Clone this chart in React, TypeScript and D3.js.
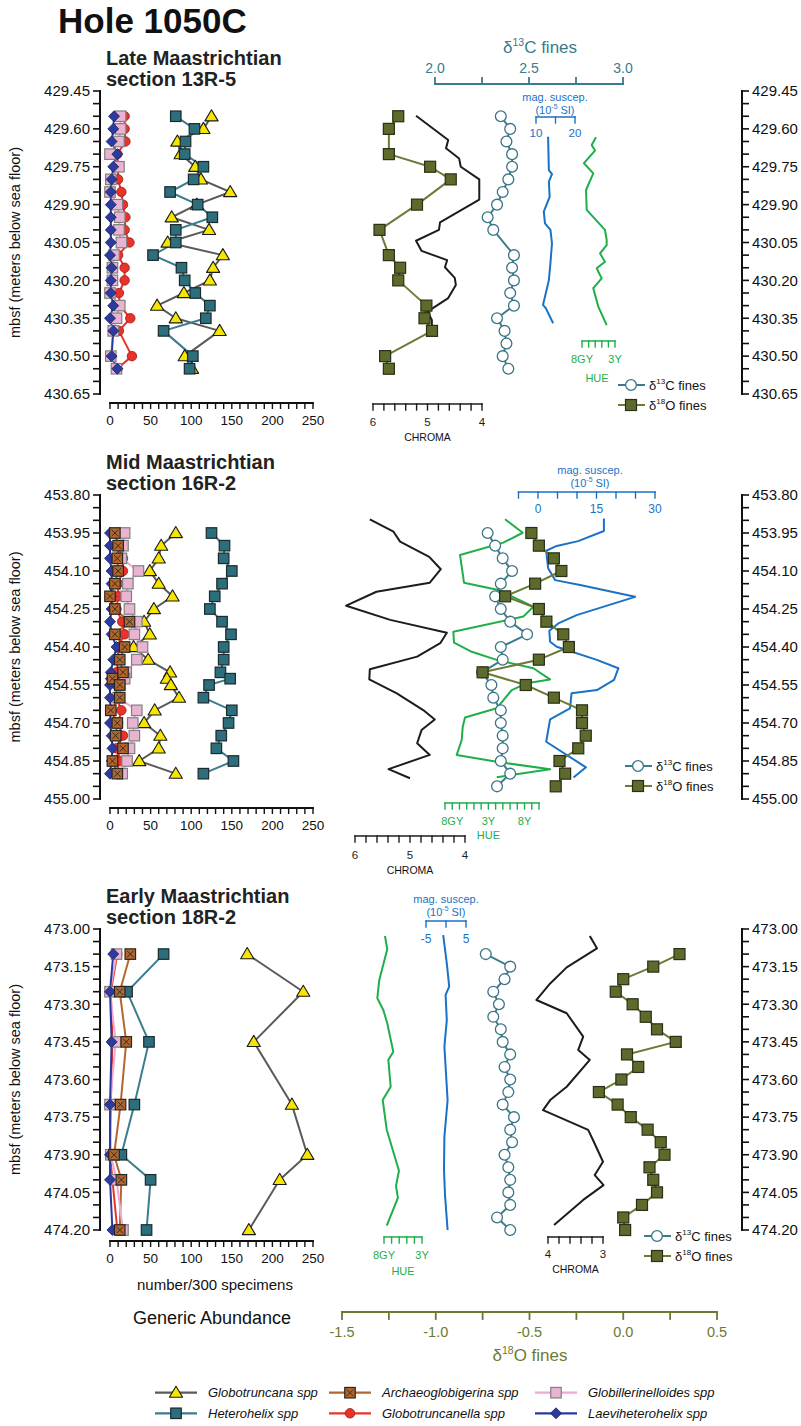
import React from 'react';
import * as d3 from 'd3';

const SANS = "'Liberation Sans', Arial, Helvetica, sans-serif";

// Palette
const C_TEAL = '#3b7b8a';
const C_OLIVE = '#6c7a30';
const C_MAG = '#1a72c6';
const C_HUE = '#1fae4a';
const C_CHROMA = '#1c1c1c';

// ---------------- Late Maastrichtian, section 13R-5 ----------------
const lateDepth = [429.55, 429.60, 429.65, 429.70, 429.75, 429.80, 429.85, 429.90, 429.95, 430.00, 430.05, 430.10, 430.15, 430.20, 430.25, 430.30, 430.35, 430.40, 430.50, 430.55];
const lateGlobotruncana = [125, 115, 83, 87, 105, 112, 148, 107, 76, 122, 71, 139, 127, 123, 91, 58, 81, 135, 92, 101];
const lateHeterohelix = [81, 104, 93, 92, 115, 103, 74, 108, 126, 81, 81, 53, 88, 92, 105, 123, 118, 66, 102, 98];
const lateGlobotruncanella = [18, 18, 19, 9, 10, 10, 14, 16, 19, 18, 24, 10, 18, 18, 11, 12, 25, 11, 27, 9];
const lateGlobillerinelloides = [13, 13, 11, 0, 11, 1, 0, 9, 12, 11, 14, 5, 3, 3, 0, 12, 8, 4, 1, 8];
const lateLaeviheterohelix = [5, 4, 2, 9, 4, 2, 1, 1, 1, 1, 1, 0, 2, 1, 1, 4, 0, 4, 2, 9];

const lateO18Depth = [429.55, 429.60, 429.70, 429.75, 429.80, 429.90, 430.00, 430.10, 430.15, 430.20, 430.30, 430.35, 430.40, 430.50, 430.55];
const lateO18 = [-1.20, -1.25, -1.25, -1.03, -0.92, -1.10, -1.30, -1.25, -1.19, -1.20, -1.05, -1.06, -1.02, -1.27, -1.25];
const lateC13Depth = [429.55, 429.60, 429.65, 429.70, 429.75, 429.80, 429.85, 429.90, 429.95, 430.00, 430.10, 430.15, 430.20, 430.25, 430.30, 430.35, 430.40, 430.45, 430.50, 430.55];
const lateC13 = [2.35, 2.40, 2.38, 2.41, 2.41, 2.39, 2.36, 2.33, 2.28, 2.31, 2.42, 2.41, 2.42, 2.40, 2.42, 2.33, 2.37, 2.38, 2.36, 2.39];
const lateChromaDepth = [429.548, 429.644, 429.677, 429.717, 429.75, 429.80, 429.88, 429.97, 430.00, 430.043, 430.083, 430.12, 430.148, 430.19, 430.218, 430.27, 430.324, 430.357, 430.397];
const lateChroma = [5.21, 4.62, 4.66, 4.42, 4.39, 4.05, 4.05, 4.77, 4.79, 5.21, 5.11, 4.64, 4.68, 4.50, 4.48, 4.62, 5.00, 4.92, 4.92];
const lateMagDepth = [429.631, 429.763, 429.779, 429.809, 429.869, 429.928, 429.974, 430.0, 430.053, 430.132, 430.199, 430.265, 430.297, 430.31, 430.37];
const lateMag = [13.1, 13.3, 14.1, 13.3, 13.5, 12.0, 12.3, 13.7, 14.1, 13.7, 13.3, 12.3, 11.8, 12.5, 14.4];
const lateHueDepth = [429.633, 429.664, 429.686, 429.736, 429.776, 429.842, 429.921, 430.0, 430.04, 430.06, 430.093, 430.126, 430.152, 430.192, 430.231, 430.304, 430.377];
const lateHue = [2.12, 1.47, 1.97, 0.30, 1.71, 0.61, 0.71, 3.48, 3.74, 3.74, 2.73, 3.48, 2.23, 2.98, 1.71, 2.47, 3.74];

// ---------------- Mid Maastrichtian, section 16R-2 ----------------
const midDepth = [453.95, 454.00, 454.05, 454.10, 454.15, 454.20, 454.25, 454.30, 454.35, 454.40, 454.45, 454.50, 454.525, 454.55, 454.60, 454.65, 454.70, 454.75, 454.80, 454.85, 454.90];
const midGlobotruncana = [81, 63, 60, 49, 60, 77, 54, 42, 49, 29, 47, 74, 70, 75, 85, 55, 42, 62, 60, 36, 81];
const midHeterohelix = [125, 141, 140, 150, 138, 129, 123, 138, 149, 140, 140, 136, 148, 122, 115, 150, 146, 137, 131, 152, 115];
const midArchaeoglobigerina = [6, 10, 9, 10, 6, 0, 6, 24, 6, 18, 12, 16, 3, 12, 12, 1, 9, 7, 16, 3, 9];
const midGlobotruncanella = [8, 8, 16, 16, 10, 10, 8, 15, 18, 10, 10, 8, 8, 8, 8, 14, 10, 16, 8, 13, 6];
const midGlobillerinelloides = [18, 16, 14, 35, 22, 20, 24, 33, 30, 40, 33, 20, 18, 12, 10, 33, 28, 30, 24, 21, 15];
const midLaeviheterohelix = [0, 0, 0, 2, 2, 1, 2, 0, 2, 8, 4, 1, 1, 0, 0, 1, 0, 2, 3, 2, 0];

const midIsoDepth = [453.95, 454.00, 454.05, 454.10, 454.15, 454.20, 454.25, 454.30, 454.35, 454.40, 454.45, 454.50, 454.55, 454.60, 454.65, 454.70, 454.75, 454.80, 454.85, 454.90, 454.95];
const midO18 = [-0.49, -0.45, -0.37, -0.33, -0.47, -0.63, -0.45, -0.41, -0.32, -0.29, -0.45, -0.75, -0.52, -0.37, -0.22, -0.22, -0.20, -0.24, -0.34, -0.31, -0.36];
const midC13 = [2.28, 2.32, 2.36, 2.41, 2.35, 2.32, 2.35, 2.40, 2.49, 2.35, 2.36, 2.25, 2.30, 2.31, 2.35, 2.35, 2.36, 2.36, 2.35, 2.40, 2.33];
const midChromaDepth = [453.896, 453.945, 453.984, 454.044, 454.093, 454.146, 454.182, 454.237, 454.293, 454.344, 454.385, 454.438, 454.488, 454.528, 454.583, 454.649, 454.686, 454.728, 454.78, 454.826, 454.882, 454.918];
const midChroma = [5.73, 5.30, 5.18, 4.65, 4.44, 4.64, 5.61, 6.16, 5.36, 4.33, 4.45, 4.87, 5.73, 5.74, 5.24, 4.76, 4.55, 4.79, 4.87, 4.64, 5.39, 5.0];
const midHueDepth = [453.896, 453.949, 453.988, 454.037, 454.146, 454.175, 454.241, 454.28, 454.34, 454.383, 454.419, 454.451, 454.484, 454.528, 454.543, 454.57, 454.642, 454.678, 454.715, 454.767, 454.826, 454.853, 454.883, 454.914];
const midHue = [7.30, 9.75, 7.07, 1.08, 1.63, 6.38, 11.22, 9.83, 0.15, 0.25, 2.70, 6.15, 11.22, 13.53, 10.30, 8.23, 6.15, 1.77, 1.45, 1.31, 0.62, 6.15, 13.53, 6.15];
const midMagDepth = [453.893, 453.942, 453.982, 454.001, 454.02, 454.089, 454.136, 454.155, 454.202, 454.274, 454.307, 454.336, 454.379, 454.399, 454.451, 454.484, 454.53, 454.57, 454.583, 454.642, 454.686, 454.774, 454.875, 454.915];
const midMag = [16.9, 16.9, 10.3, 4.8, 2.1, 2.6, 4.4, 10.8, 24.9, 9.9, 5.2, 2.9, 3.1, 4.8, 15.1, 20.6, 19.5, 15.1, 8.6, 8.2, 3.1, 2.1, 12.3, 9.1];

// ---------------- Early Maastrichtian, section 18R-2 ----------------
const earlyDepth = [473.10, 473.25, 473.45, 473.70, 473.90, 474.00, 474.20];
const earlyGlobotruncana = [169, 238, 177, 224, 243, 209, 171];
const earlyHeterohelix = [66, 21, 48, 30, 14, 50, 45];
const earlyArchaeoglobigerina = [25, 12, 20, 13, 5, 14, 12];
const earlyGlobotruncanella = [9, 1, 3, 1, 0, 3, 9];
const earlyGlobillerinelloides = [8, 0, 7, 0, 1, 8, 16];
const earlyLaeviheterohelix = [4, 0, 2, 0, 0, 0, 3];

const earlyIsoDepth = [473.10, 473.15, 473.20, 473.25, 473.30, 473.35, 473.40, 473.45, 473.50, 473.55, 473.60, 473.65, 473.70, 473.75, 473.80, 473.85, 473.90, 473.95, 474.00, 474.05, 474.10, 474.15, 474.20];
const earlyC13 = [2.27, 2.40, 2.37, 2.31, 2.34, 2.31, 2.35, 2.36, 2.40, 2.37, 2.40, 2.39, 2.36, 2.42, 2.40, 2.41, 2.37, 2.39, 2.40, 2.39, 2.40, 2.33, 2.40];
const earlyO18 = [0.30, 0.16, 0.00, -0.04, 0.05, 0.12, 0.18, 0.28, 0.02, 0.08, -0.01, -0.13, -0.03, 0.04, 0.13, 0.20, 0.22, 0.14, 0.16, 0.18, 0.10, 0.00, 0.01];
const earlyChromaDepth = [473.028, 473.077, 473.153, 473.217, 473.283, 473.336, 473.429, 473.482, 473.522, 473.629, 473.682, 473.722, 473.801, 473.842, 473.928, 473.981, 474.021, 474.08, 474.18];
const earlyChroma = [3.24, 3.11, 3.66, 3.96, 4.21, 3.66, 3.36, 3.45, 3.24, 3.66, 3.96, 4.09, 3.27, 3.18, 3.0, 3.15, 2.99, 3.36, 3.89];
const earlyMagDepth = [473.024, 473.137, 473.23, 473.263, 473.363, 473.469, 473.629, 473.682, 473.828, 473.96, 474.06, 474.20];
const earlyMag = [-0.7, 0.2, 0.8, -0.1, 0.2, -0.4, 0.2, 0.4, -0.4, -0.5, -0.25, 0.4];
const earlyHueDepth = [473.028, 473.081, 473.203, 473.276, 473.323, 473.376, 473.489, 473.522, 473.629, 473.682, 473.80, 473.964, 474.024, 474.072, 474.183];
const earlyHue = [0.13, 0.43, -0.62, -0.88, -0.09, 0.43, 1.22, 0.57, 0.88, -0.17, 0.36, 1.97, 1.58, 1.83, 0.36];

// Axis tick labels
const abundanceLabels = [0, 50, 100, 150, 200, 250];
const c13Ticks = [2.0, 2.25, 2.5, 2.75, 3.0];
const c13Labels = [2.0, 2.5, 3.0];
const o18Ticks = [-1.5, -1.25, -1.0, -0.75, -0.5, -0.25, 0.0, 0.25, 0.5];
const o18Labels = [-1.5, -1.0, -0.5, 0.0, 0.5];

// Species styling (legend order)
const SPECIES = [
  { name: 'Globotruncana spp', line: '#5a5a5a', shape: 'triangle', fill: '#f6e500', stroke: '#1a1a1a' },
  { name: 'Heterohelix spp', line: '#3a7d8b', shape: 'square', fill: '#2c6e7c', stroke: '#1b2a2e' },
  { name: 'Archaeoglobigerina spp', line: '#b4672d', shape: 'xsquare', fill: '#b4652a', stroke: '#262626' },
  { name: 'Globotruncanella spp', line: '#e8332b', shape: 'circle', fill: '#e8322a', stroke: '#9c1b15' },
  { name: 'Globillerinelloides spp', line: '#eeaad2', shape: 'square', fill: '#e8b4d2', stroke: '#808080' },
  { name: 'Laeviheterohelix spp', line: '#2c3a9e', shape: 'diamond', fill: '#2e3b9e', stroke: '#18205a' },
];

// Scales
const yLate = d3.scaleLinear().domain([429.45, 430.65]).range([91, 394]);
const yMid = d3.scaleLinear().domain([453.80, 455.00]).range([495, 799]);
const yEarly = d3.scaleLinear().domain([473.00, 474.20]).range([929, 1230]);
const xAbund = d3.scaleLinear().domain([0, 250]).range([110, 313]);
const xC13 = d3.scaleLinear().domain([2, 3]).range([435, 623]);
const xO18 = d3.scaleLinear().domain([-1.5, 0.5]).range([342, 717]);

const LEFT_X = 100;
const RIGHT_X = 742;

type Scale = d3.ScaleLinear<number, number>;

function Marker({ shape, fill, stroke, x, y, s = 11 }: { shape: string; fill: string; stroke: string; x: number; y: number; s?: number }) {
  const h = s / 2;
  if (shape === 'triangle') {
    return <path d={`M${x},${y - 6.5}L${x + 6.6},${y + 4.6}L${x - 6.6},${y + 4.6}Z`} fill={fill} stroke={stroke} strokeWidth={1.1} strokeLinejoin="round" />;
  }
  if (shape === 'square') {
    return <rect x={x - h} y={y - h} width={s} height={s} fill={fill} stroke={stroke} strokeWidth={1.2} />;
  }
  if (shape === 'xsquare') {
    return (
      <g>
        <rect x={x - h} y={y - h} width={s} height={s} fill={fill} stroke={stroke} strokeWidth={1.2} />
        <path d={`M${x - h + 2},${y - h + 2}L${x + h - 2},${y + h - 2}M${x + h - 2},${y - h + 2}L${x - h + 2},${y + h - 2}`} stroke={stroke} strokeWidth={0.9} />
      </g>
    );
  }
  if (shape === 'circle') {
    return <circle cx={x} cy={y} r={h - 0.5} fill={fill} stroke={stroke} strokeWidth={0.8} />;
  }
  return <path d={`M${x},${y - h}L${x + h},${y}L${x},${y + h}L${x - h},${y}Z`} fill={fill} stroke={stroke} strokeWidth={0.8} />;
}

function curvePath(depth: number[], value: number[], x: Scale, y: Scale) {
  const pts = depth.map((d, i) => [x(value[i]), y(d)] as [number, number]);
  return d3.line()(pts) || '';
}

function Curve({ depth, value, x, y, color, width = 2 }: { depth: number[]; value: number[]; x: Scale; y: Scale; color: string; width?: number }) {
  return <path d={curvePath(depth, value, x, y)} fill="none" stroke={color} strokeWidth={width} strokeLinejoin="round" />;
}

function Sup({ x, y, pre, sup, post, size, fill, anchor = 'start' }: any) {
  return (
    <text x={x} y={y} fontSize={size} fill={fill} textAnchor={anchor}>
      {pre}
      <tspan fontSize={size * 0.62} dy={-size * 0.4}>{sup}</tspan>
      <tspan dy={size * 0.4}>{post}</tspan>
    </text>
  );
}

function Bracket({ scale, ticks, y, color, len = 6, dir = 1, labels = [], labelY, size = 11.5, width = 1.4 }: any) {
  const x0 = scale(ticks[0]);
  const x1 = scale(ticks[ticks.length - 1]);
  return (
    <g>
      <line x1={x0} x2={x1} y1={y} y2={y} stroke={color} strokeWidth={width} strokeLinecap="square" />
      {ticks.map((t: number, i: number) => (
        <line key={i} x1={scale(t)} x2={scale(t)} y1={y} y2={y + dir * len} stroke={color} strokeWidth={width} strokeLinecap="square" />
      ))}
      {labels.map(([v, s]: [number, string], i: number) => (
        <text key={i} x={scale(v)} y={labelY} fontSize={size} fill={color} textAnchor="middle">{s}</text>
      ))}
    </g>
  );
}

function DepthAxes({ y, d0 }: { y: Scale; d0: number }) {
  const [top, bottom] = y.range();
  const minors = d3.range(25).map((i) => d0 + i * 0.05);
  const majors = d3.range(9).map((i) => d0 + i * 0.15);
  return (
    <g>
      <line x1={LEFT_X} x2={LEFT_X} y1={top - 1} y2={bottom + 1} stroke="#111" strokeWidth={2} />
      <line x1={RIGHT_X} x2={RIGHT_X} y1={top - 1} y2={bottom + 1} stroke="#111" strokeWidth={2} />
      {minors.map((m, i) => (
        <g key={i}>
          <line x1={LEFT_X - 7} x2={LEFT_X} y1={y(m)} y2={y(m)} stroke="#111" strokeWidth={1.6} />
          <line x1={RIGHT_X} x2={RIGHT_X + 7} y1={y(m)} y2={y(m)} stroke="#111" strokeWidth={1.6} />
        </g>
      ))}
      {majors.map((m, i) => (
        <g key={i} fontSize={15} fill="#111">
          <text x={LEFT_X - 10} y={y(m) + 5.3} textAnchor="end">{m.toFixed(2)}</text>
          <text x={RIGHT_X + 10} y={y(m) + 5.3} textAnchor="start">{m.toFixed(2)}</text>
        </g>
      ))}
      <text transform={`translate(20,${(top + bottom) / 2}) rotate(-90)`} fontSize={14.5} textAnchor="middle" fill="#111">mbsf (meters below sea floor)</text>
    </g>
  );
}

function AbundanceAxis({ y }: { y: number }) {
  const ticks = d3.range(0, 251, 10);
  return (
    <g>
      <line x1={xAbund(0)} x2={xAbund(250)} y1={y} y2={y} stroke="#111" strokeWidth={1.8} strokeLinecap="square" />
      {ticks.map((t) => (
        <line key={t} x1={xAbund(t)} x2={xAbund(t)} y1={y} y2={y + 6} stroke="#111" strokeWidth={1.4} />
      ))}
      {abundanceLabels.map((t) => (
        <text key={t} x={xAbund(t)} y={y + 22} fontSize={13.5} textAnchor="middle" fill="#111">{t}</text>
      ))}
    </g>
  );
}

function ForamPanel({ y, depth, series }: { y: Scale; depth: number[]; series: (number[] | null)[] }) {
  const drawOrder = [0, 1, 3, 4, 5, 2];
  return (
    <g>
      {SPECIES.map((sp, k) => {
        const vals = series[k];
        if (!vals) return null;
        return <path key={sp.name} d={curvePath(depth, vals, xAbund, y)} fill="none" stroke={sp.line} strokeWidth={2} strokeLinejoin="round" />;
      })}
      {drawOrder.map((k) => {
        const vals = series[k];
        if (!vals) return null;
        const sp = SPECIES[k];
        return (
          <g key={sp.name}>
            {depth.map((d, i) => (
              <Marker key={i} shape={sp.shape} fill={sp.fill} stroke={sp.stroke} x={xAbund(vals[i])} y={y(d)} s={sp.shape === 'diamond' ? 11 : 10.5} />
            ))}
          </g>
        );
      })}
    </g>
  );
}

function Isotopes({ y, c13Depth, c13, o18Depth, o18 }: any) {
  return (
    <g>
      <Curve depth={c13Depth} value={c13} x={xC13} y={y} color="#3e7c8c" width={2} />
      {c13Depth.map((d: number, i: number) => (
        <circle key={i} cx={xC13(c13[i])} cy={y(d)} r={5.4} fill="#fff" stroke="#3a7487" strokeWidth={1.3} />
      ))}
      <Curve depth={o18Depth} value={o18} x={xO18} y={y} color="#6b7a34" width={2} />
      {o18Depth.map((d: number, i: number) => (
        <rect key={i} x={xO18(o18[i]) - 5.5} y={y(d) - 5.5} width={11} height={11} fill="#5c6a2b" stroke="#2a2f15" strokeWidth={1.2} />
      ))}
    </g>
  );
}

function IsoLegend({ x, y }: { x: number; y: number }) {
  return (
    <g>
      <line x1={x} x2={x + 27} y1={y} y2={y} stroke="#3e7c8c" strokeWidth={2} />
      <circle cx={x + 13} cy={y} r={5.4} fill="#fff" stroke="#3a7487" strokeWidth={1.3} />
      <Sup x={x + 31} y={y + 4.5} pre="δ" sup="13" post="C fines" size={13} fill="#111" />
      <line x1={x} x2={x + 27} y1={y + 20} y2={y + 20} stroke="#6b7a34" strokeWidth={2} />
      <rect x={x + 7.5} y={y + 14.5} width={11} height={11} fill="#5c6a2b" stroke="#2a2f15" strokeWidth={1.2} />
      <Sup x={x + 31} y={y + 24.5} pre="δ" sup="18" post="O fines" size={13} fill="#111" />
    </g>
  );
}

function MagLabel({ cx, y }: { cx: number; y: number }) {
  return (
    <g>
      <text x={cx} y={y} fontSize={11} fill={C_MAG} textAnchor="middle">mag. suscep.</text>
      <Sup x={cx} y={y + 12.5} pre="(10" sup="-5" post=" SI)" size={11} fill={C_MAG} anchor="middle" />
    </g>
  );
}

function PanelTitle({ y, lines }: { y: number; lines: string[] }) {
  return (
    <g fontWeight="bold" fontSize={20} fill="#222">
      <text x={106} y={y - 26}>{lines[0]}</text>
      <text x={106} y={y - 5}>{lines[1]}</text>
    </g>
  );
}

// Panel-specific property scales
const chromaLate = d3.scaleLinear().domain([6, 4]).range([373, 482]);
const chromaMid = d3.scaleLinear().domain([6, 4]).range([355, 465]);
const chromaEarly = d3.scaleLinear().domain([4, 3]).range([548, 603]);
const magLate = d3.scaleLinear().domain([10, 20]).range([536, 575]);
const magMid = d3.scaleLinear().domain([0, 30]).range([538, 655]);
const magEarly = d3.scaleLinear().domain([-5, 5]).range([426, 466]);
const hueLate = d3.scaleLinear().domain([0, 5]).range([582, 615]);
const hueMid = d3.scaleLinear().domain([-1, 12]).range([445, 539]);
const hueEarly = d3.scaleLinear().domain([0, 5]).range([384, 422]);

const chromaTicks = (a: number, b: number, n: number) => d3.range(n + 1).map((i) => a + ((b - a) * i) / n);

export default function App() {
  return (
    <svg width={801} height={1426} viewBox="0 0 801 1426" fontFamily={SANS} style={{ position: 'absolute', left: 0, top: 0, background: '#fff' }}>
      <rect width={801} height={1426} fill="#fff" />
      <text x={58} y={33} fontSize={35} fontWeight="bold" fill="#111">Hole 1050C</text>

      {/* shared δ13C axis */}
      <Sup x={540} y={53} pre="δ" sup="13" post="C fines" size={17} fill={C_TEAL} anchor="middle" />
      <Bracket scale={xC13} ticks={c13Ticks} y={84} dir={-1} len={6} color={C_TEAL} width={1.8}
        labels={c13Labels.map((v) => [v, v.toFixed(1)])} labelY={73} size={14} />

      {/* ============ Late Maastrichtian ============ */}
      <PanelTitle y={91} lines={['Late Maastrichtian', 'section 13R-5']} />
      <DepthAxes y={yLate} d0={429.45} />
      <AbundanceAxis y={403} />
      <ForamPanel y={yLate} depth={lateDepth}
        series={[lateGlobotruncana, lateHeterohelix, null, lateGlobotruncanella, lateGlobillerinelloides, lateLaeviheterohelix]} />
      <Curve depth={lateChromaDepth} value={lateChroma} x={chromaLate} y={yLate} color={C_CHROMA} />
      <Curve depth={lateHueDepth} value={lateHue} x={hueLate} y={yLate} color={C_HUE} />
      <Curve depth={lateMagDepth} value={lateMag} x={magLate} y={yLate} color={C_MAG} />
      <Isotopes y={yLate} c13Depth={lateC13Depth} c13={lateC13} o18Depth={lateO18Depth} o18={lateO18} />
      <MagLabel cx={555} y={101} />
      <Bracket scale={magLate} ticks={[10, 15, 20]} y={117} color={C_MAG} labels={[[10, '10'], [20, '20']]} labelY={136.5} size={11.5} />
      <Bracket scale={hueLate} ticks={d3.range(0, 6)} y={341} color={C_HUE} labels={[[0, '8GY'], [5, '3Y']]} labelY={362.5} size={11} />
      <text x={597} y={381.5} fontSize={11} fill={C_HUE} textAnchor="middle">HUE</text>
      <Bracket scale={chromaLate} ticks={chromaTicks(6, 4, 10)} y={404} color={C_CHROMA} labels={[[6, '6'], [5, '5'], [4, '4']]} labelY={426} size={11.5} />
      <text x={chromaLate(5)} y={441} fontSize={10.5} fill="#111" textAnchor="middle">CHROMA</text>
      <IsoLegend x={618} y={385} />

      {/* ============ Mid Maastrichtian ============ */}
      <PanelTitle y={495} lines={['Mid Maastrichtian', 'section 16R-2']} />
      <DepthAxes y={yMid} d0={453.80} />
      <AbundanceAxis y={808} />
      <ForamPanel y={yMid} depth={midDepth}
        series={[midGlobotruncana, midHeterohelix, midArchaeoglobigerina, midGlobotruncanella, midGlobillerinelloides, midLaeviheterohelix]} />
      <Curve depth={midChromaDepth} value={midChroma} x={chromaMid} y={yMid} color={C_CHROMA} />
      <Curve depth={midHueDepth} value={midHue} x={hueMid} y={yMid} color={C_HUE} />
      <Curve depth={midMagDepth} value={midMag} x={magMid} y={yMid} color={C_MAG} />
      <Isotopes y={yMid} c13Depth={midIsoDepth} c13={midC13} o18Depth={midIsoDepth} o18={midO18} />
      <MagLabel cx={590} y={474} />
      <Bracket scale={magMid} ticks={d3.range(-5, 31, 5)} y={492} color={C_MAG} labels={[[0, '0'], [15, '15'], [30, '30']]} labelY={512.5} size={12} />
      <Bracket scale={hueMid} ticks={d3.range(-1, 13)} y={803} color={C_HUE} labels={[[0, '8GY'], [5, '3Y'], [10, '8Y']]} labelY={825} size={11} />
      <text x={hueMid(5)} y={839} fontSize={11} fill={C_HUE} textAnchor="middle">HUE</text>
      <Bracket scale={chromaMid} ticks={chromaTicks(6, 4, 10)} y={836} color={C_CHROMA} labels={[[6, '6'], [5, '5'], [4, '4']]} labelY={858.5} size={11.5} />
      <text x={chromaMid(5)} y={873.5} fontSize={10.5} fill="#111" textAnchor="middle">CHROMA</text>
      <IsoLegend x={625} y={766} />

      {/* ============ Early Maastrichtian ============ */}
      <PanelTitle y={929} lines={['Early Maastrichtian', 'section 18R-2']} />
      <DepthAxes y={yEarly} d0={473.00} />
      <AbundanceAxis y={1241} />
      <ForamPanel y={yEarly} depth={earlyDepth}
        series={[earlyGlobotruncana, earlyHeterohelix, earlyArchaeoglobigerina, earlyGlobotruncanella, earlyGlobillerinelloides, earlyLaeviheterohelix]} />
      <Curve depth={earlyHueDepth} value={earlyHue} x={hueEarly} y={yEarly} color={C_HUE} />
      <Curve depth={earlyMagDepth} value={earlyMag} x={magEarly} y={yEarly} color={C_MAG} />
      <Curve depth={earlyChromaDepth} value={earlyChroma} x={chromaEarly} y={yEarly} color={C_CHROMA} />
      <Isotopes y={yEarly} c13Depth={earlyIsoDepth} c13={earlyC13} o18Depth={earlyIsoDepth} o18={earlyO18} />
      <MagLabel cx={446} y={903} />
      <Bracket scale={magEarly} ticks={[-5, 0, 5]} y={921} color={C_MAG} labels={[[-5, '-5'], [5, '5']]} labelY={943} size={12} />
      <Bracket scale={hueEarly} ticks={d3.range(0, 6)} y={1237} color={C_HUE} labels={[[0, '8GY'], [5, '3Y']]} labelY={1258.5} size={11} />
      <text x={hueEarly(2.5)} y={1275} fontSize={11} fill={C_HUE} textAnchor="middle">HUE</text>
      <Bracket scale={chromaEarly} ticks={chromaTicks(4, 3, 5)} y={1237} color={C_CHROMA} labels={[[4, '4'], [3, '3']]} labelY={1257.5} size={11.5} />
      <text x={chromaEarly(3.5)} y={1273} fontSize={10.5} fill="#111" textAnchor="middle">CHROMA</text>
      <IsoLegend x={644} y={1236} />

      {/* abundance titles */}
      <text x={215} y={1290} fontSize={15} textAnchor="middle" fill="#111">number/300 specimens</text>
      <text x={212} y={1324} fontSize={18} textAnchor="middle" fill="#111">Generic Abundance</text>

      {/* shared δ18O axis */}
      <Bracket scale={xO18} ticks={o18Ticks} y={1312} dir={1} len={7} color={C_OLIVE} width={1.8}
        labels={o18Labels.map((v) => [v, v.toFixed(1)])} labelY={1337} size={14.5} />
      <Sup x={530} y={1361} pre="δ" sup="18" post="O fines" size={17} fill={C_OLIVE} anchor="middle" />

      {/* species legend */}
      {SPECIES.map((sp, k) => {
        const col = Math.floor(k / 2);
        const row = k % 2;
        const lx = [155, 329, 535][col];
        const ly = 1392.7 + row * 20.6;
        return (
          <g key={sp.name}>
            <line x1={lx} x2={lx + 42} y1={ly} y2={ly} stroke={sp.line} strokeWidth={2.2} />
            <Marker shape={sp.shape} fill={sp.fill} stroke={sp.stroke} x={lx + 21} y={ly} s={sp.shape === 'diamond' ? 11 : 10.5} />
            <text x={lx + 53} y={ly + 4.6} fontSize={13} fontStyle="italic" fill="#111">{sp.name}</text>
          </g>
        );
      })}
    </svg>
  );
}
